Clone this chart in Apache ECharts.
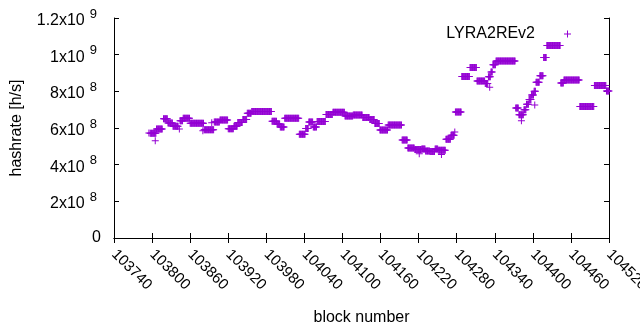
<!DOCTYPE html>
<html>
<head>
<meta charset="utf-8">
<script src="https://cdn.jsdelivr.net/npm/echarts@6/dist/echarts.min.js"></script>
<style>
  html, body { margin: 0; padding: 0; background: #fff; }
  #chart { width: 640px; height: 330px; }
</style>
</head>
<body>
<div id="chart"></div>
<script>
// difficulty periods: first block, last block, hashrate (x10^8 h/s)
var runStart = [103797, 103807, 103818, 103825, 103833, 103844, 103849, 103860, 103882, 103898,
                103907, 103920, 103929, 103935, 103943, 103950, 103957, 103989, 103997, 104002,
                104009, 104032, 104042, 104047, 104054, 104060, 104074, 104085, 104104, 104117,
                104132, 104143, 104151, 104159, 104172, 104194, 104203, 104214, 104225, 104231,
                104238, 104246, 104251, 104263, 104271, 104278, 104288, 104301, 104312, 104325,
                104330, 104334, 104337, 104342, 104373, 104378, 104386, 104390, 104394, 104398,
                104402, 104405, 104411, 104417, 104422, 104444, 104449, 104474, 104497, 104516];
var runEnd   = [103806, 103816, 103824, 103832, 103841, 103848, 103859, 103881, 103897, 103906,
                103919, 103928, 103934, 103942, 103949, 103956, 103988, 103996, 104001, 104008,
                104031, 104041, 104046, 104053, 104059, 104073, 104084, 104103, 104116, 104131,
                104142, 104150, 104158, 104171, 104193, 104202, 104213, 104224, 104230, 104237,
                104245, 104250, 104262, 104270, 104276, 104287, 104300, 104311, 104324, 104329,
                104333, 104336, 104341, 104372, 104377, 104385, 104389, 104393, 104397, 104401,
                104404, 104410, 104416, 104421, 104443, 104448, 104473, 104496, 104515, 104520];
var runValue = [5.72, 5.95, 6.5, 6.27, 6.1, 6.4, 6.53, 6.26, 5.9, 6.33,
                6.44, 5.96, 6.1, 6.3, 6.46, 6.8, 6.9, 6.37, 6.22, 6.05,
                6.53, 5.66, 5.97, 6.33, 6.05, 6.35, 6.73, 6.86, 6.65, 6.71,
                6.57, 6.46, 6.25, 5.89, 6.16, 5.35, 4.91, 4.83, 4.85, 4.75,
                4.72, 4.85, 4.78, 5.38, 5.6, 6.87, 8.81, 9.3, 8.56, 8.43,
                8.8, 9.05, 9.45, 9.65, 7.09, 6.72, 7.0, 7.3, 7.55, 7.8,
                8.0, 8.5, 8.85, 9.85, 10.5, 8.45, 8.62, 7.17, 8.32, 8.02];
// stray single blocks
var extraBlock = [103795, 103805, 103843, 103880, 103894, 104221, 104256, 104277, 104332, 104382, 104403];
var extraValue = [5.73, 5.3, 5.95, 5.85, 6.29, 4.6, 4.55, 5.78, 8.22, 6.4, 7.25];

var yTicks = [0, 2e8, 4e8, 6e8, 8e8, 1e9, 1.2e9];
var yTickMant = ['0', '2', '4', '6', '8', '1', '1.2'];
var yTickExp = ['', '8', '8', '8', '8', '9', '9'];

var purple = '#9400d3';
var font = 'Liberation Sans, Arial, sans-serif';
var plus = 'path://M0,3h7v1h-7z M3,0h1v7h-1z';

var points = [];
for (var r = 0; r < runStart.length; r++) {
  for (var b = runStart[r]; b <= runEnd[r]; b++) {
    points.push([b, runValue[r] * 1e8]);
  }
}
for (var e = 0; e < extraBlock.length; e++) {
  points.push([extraBlock[e], extraValue[e] * 1e8]);
}

function yLabel(v) {
  var i = yTicks.indexOf(v);
  if (i < 0) return '';
  if (yTickExp[i] === '') return '{b|' + yTickMant[i] + '}';
  return '{b|' + yTickMant[i] + 'x10}{s|' + yTickExp[i] + '}';
}

var chart = echarts.init(document.getElementById('chart'), null, { renderer: 'canvas' });
var axisLine = { show: true, lineStyle: { color: '#000', width: 1 } };
var tick = { show: true, inside: true, length: 5, lineStyle: { color: '#000' } };

chart.setOption({
  animation: false,
  backgroundColor: '#fff',
  grid: { left: 114, right: 31, top: 18, bottom: 92, containLabel: false, outerBoundsMode: 'none' },
  legend: {
    right: 64,
    top: 21,
    align: 'right',
    itemWidth: 7,
    itemHeight: 7,
    icon: plus,
    textStyle: { fontFamily: font, fontSize: 16, color: '#000', padding: [0, 24, 0, 0] },
    data: ['LYRA2REv2']
  },
  xAxis: [{
    type: 'value',
    min: 103740,
    max: 104520,
    interval: 60,
    name: 'block number',
    nameLocation: 'middle',
    nameGap: 72,
    nameTextStyle: { fontFamily: font, fontSize: 16, color: '#000' },
    axisLine: axisLine,
    axisTick: tick,
    splitLine: { show: false },
    axisLabel: {
      rotate: -45, margin: 14, fontFamily: font, fontSize: 15, color: '#000',
      formatter: function(v) { return String(v); }
    }
  }, {
    type: 'value',
    position: 'top',
    min: 103740,
    max: 104520,
    interval: 60,
    axisLine: axisLine,
    axisTick: tick,
    splitLine: { show: false },
    axisLabel: { show: false }
  }],
  yAxis: [{
    type: 'value',
    min: 0,
    max: 1.2e9,
    interval: 2e8,
    name: 'hashrate [h/s]',
    nameLocation: 'middle',
    nameGap: 89,
    nameTextStyle: { fontFamily: font, fontSize: 16, color: '#000' },
    axisLine: axisLine,
    axisTick: tick,
    splitLine: { show: false },
    axisLabel: {
      margin: 13,
      fontFamily: font,
      fontSize: 16,
      color: '#000',
      formatter: yLabel,
      rich: {
        b: { fontFamily: font, fontSize: 16, color: '#000', verticalAlign: 'bottom' },
        s: { fontFamily: font, fontSize: 13, color: '#000', verticalAlign: 'bottom', padding: [0, 4, 8, 5] }
      }
    }
  }, {
    type: 'value',
    position: 'right',
    min: 0,
    max: 1.2e9,
    interval: 2e8,
    axisLine: axisLine,
    axisTick: tick,
    splitLine: { show: false },
    axisLabel: { show: false }
  }],
  series: [{
    name: 'LYRA2REv2',
    type: 'scatter',
    xAxisIndex: 0,
    yAxisIndex: 0,
    symbol: plus,
    symbolSize: 7,
    itemStyle: { color: purple, opacity: 1 },
    data: points
  }]
});
window.addEventListener('resize', function() { chart.resize(); });
</script>
</body>
</html>
